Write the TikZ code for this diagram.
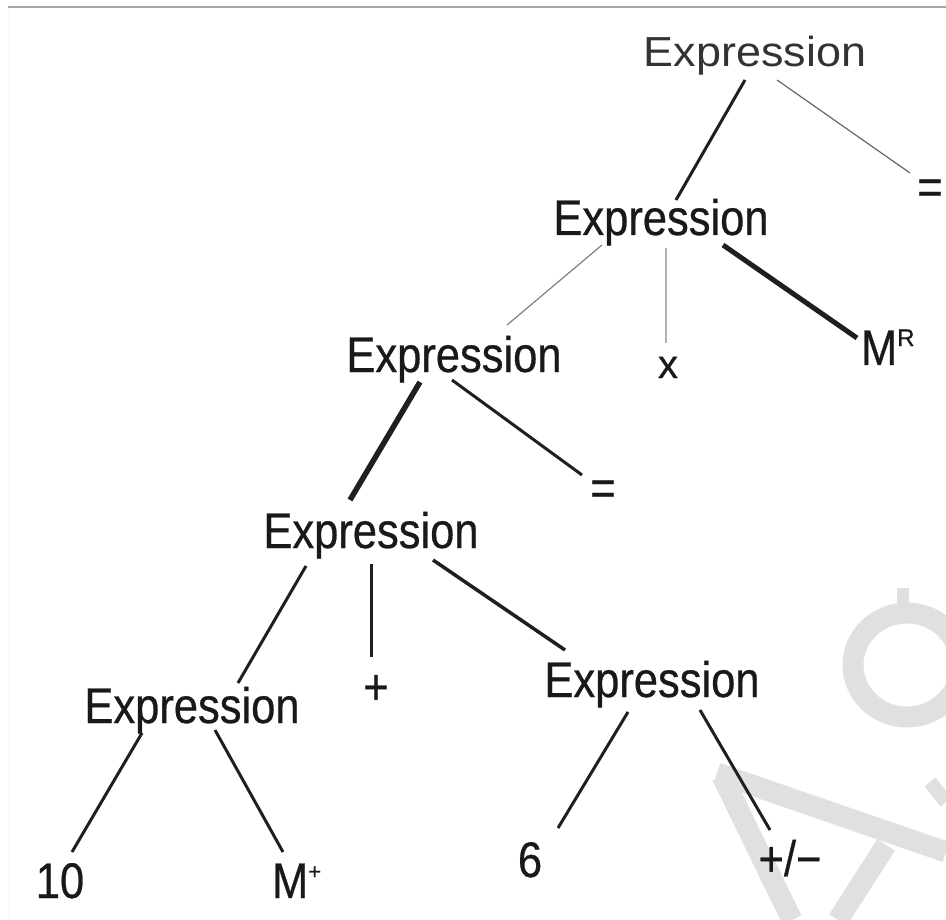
\documentclass[tikz,border=0pt]{standalone}
\usepackage{fontspec}
\usepackage{graphicx}
\setmainfont{Liberation Sans}
\newfontfamily\heavy[FakeBold=0.6]{Liberation Sans}
\newcommand\nx[1]{\scalebox{0.87}[1]{#1}}
\newcommand\sups[3]{\raisebox{#1pt}{\fontsize{#2}{#2}\selectfont #3}}
\begin{document}
\begin{tikzpicture}[x=1pt,y=-1pt,
  lbl/.style={anchor=base, inner sep=0pt, outer sep=0pt, text=black!90, font=\heavy\fontsize{50}{50}\selectfont},
  lblw/.style={lbl, anchor=base west},
  topl/.style={lbl, text=black!80, font=\fontsize{42}{42}\selectfont},
  conn/.style={draw=black!88, line width=#1, line cap=butt},
  faint/.style={draw=black!#1, line width=1.2},
  wm/.style={draw=black!12, line width=21, line cap=butt}]
\useasboundingbox (0,0) rectangle (946,920);
% page frame
\draw[line width=1.5, black!35] (8,7) -- (946,7);
\draw[line width=1, black!5] (9,8) -- (9,920);
% watermark (approximate)
\begin{scope}
\clip (0,0) rectangle (946,920);
\draw[wm] (907,665) ellipse [x radius=54, y radius=52];
\draw[wm, line width=12] (903,588) -- (903,612);
\draw[wm] (717,773) -- (946,852);
\draw[wm] (722,776) -- (792,920);
\draw[wm] (886,845) -- (838,920);
\draw[wm, line width=14] (930,782) -- (946,802);
\end{scope}
% nodes
\node[topl] (e1) at (755,67) {\scalebox{1.07}[1]{Expression}};
\node[lbl] (e2) at (661,235) {\nx{Expression}};
\node[lbl] (eqa) at (930,204) {\nx{=}};
\node[lbl] (e3) at (454,372) {\nx{Expression}};
\node[lbl, font=\heavy\fontsize{40}{40}\selectfont] (x) at (668,378) {x};
\node[lblw] (mr) at (861,365) {\nx{M}\sups{19}{24}{R}};
\node[lbl] (e4) at (371,548) {\nx{Expression}};
\node[lbl] (eqb) at (603,505) {\nx{=}};
\node[lbl] (e5) at (192,723) {\nx{Expression}};
\node[lbl] (plus) at (376,704) {\nx{+}};
\node[lbl] (e6) at (652,697) {\nx{Expression}};
\node[lbl] (ten) at (60,898) {\nx{10}};
\node[lblw] (mp) at (272,898) {\nx{M}\sups{19}{22}{+}};
\node[lbl] (six) at (530,877) {\nx{6}};
\node[lbl] (pm) at (790,876) {\nx{+/−}};
% connectors
\draw[conn=3] ([shift={(-10,13)}]e1.base) -- ([shift={(15,-35)}]e2.base);
\draw[faint=60] ([shift={(22,13)}]e1.base) -- ([shift={(-20,-31)}]eqa.base);
\draw[faint=50] ([shift={(-59,10)}]e2.base) -- ([shift={(53,-47)}]e3.base);
\draw[faint=30] ([shift={(5,13)}]e2.base) -- ([shift={(-2,-35)}]x.base);
\draw[conn=5] ([shift={(62,10)}]e2.base) -- ([shift={(-4,-27)}]mr.base west);
\draw[conn=5.5] ([shift={(-34,10)}]e3.base) -- ([shift={(-21,-48)}]e4.base);
\draw[conn=3] ([shift={(-2,8)}]e3.base) -- ([shift={(-21,-30)}]eqb.base);
\draw[conn=3] ([shift={(-65,18)}]e4.base) -- ([shift={(46,-40)}]e5.base);
\draw[conn=3] ([shift={(0,16)}]e4.base) -- ([shift={(-5,-47)}]plus.base);
\draw[conn=3.5] ([shift={(62,12)}]e4.base) -- ([shift={(-87,-47)}]e6.base);
\draw[conn=3] ([shift={(-50,10)}]e5.base) -- ([shift={(12,-46)}]ten.base);
\draw[conn=3] ([shift={(23,7)}]e5.base) -- ([shift={(11,-46)}]mp.base west);
\draw[conn=3] ([shift={(-24,15)}]e6.base) -- ([shift={(28,-49)}]six.base);
\draw[conn=3] ([shift={(48,13)}]e6.base) -- ([shift={(-20,-46)}]pm.base);
\end{tikzpicture}
\end{document}
